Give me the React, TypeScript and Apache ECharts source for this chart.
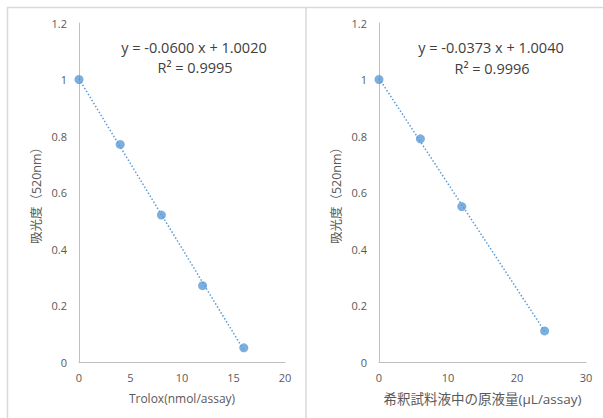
import React, { useEffect, useRef } from "react";
import * as echarts from "echarts";

// Left chart: Trolox standard curve
const troloxX = [0, 4, 8, 12, 16];
const troloxAbs = [1.0, 0.77, 0.52, 0.27, 0.05];
const troloxTrend = [
  [0, 1.002],
  [16, 0.042],
];
const troloxEq = "y = -0.0600 x + 1.0020";
const troloxR2 = "R² = 0.9995";

// Right chart: sample
const sampleX = [0, 6, 12, 24];
const sampleAbs = [1.0, 0.79, 0.55, 0.11];
const sampleTrend = [
  [0, 1.004],
  [24, 0.109],
];
const sampleEq = "y = -0.0373 x + 1.0040";
const sampleR2 = "R² = 0.9996";

const yName = "吸光度（520nm）";
const xNameLeft = "Trolox(nmol/assay)";
const xNameRight = "希釈試料液中の原液量(μL/assay)";

const FONT = "'Open Sans', 'Noto Sans CJK JP', sans-serif";
const LABEL = "#595959";
const AXIS = "#bfbfbf";
const BLUE = "#5b9bd5";
const BORDER = "#d9d9d9";

export default function App() {
  const ref = useRef<HTMLDivElement>(null);
  useEffect(() => {
    if (!ref.current) return;
    const chart = echarts.init(ref.current, undefined, { renderer: "svg" });
    const xAxisBase = (max: number, interval: number, name: string, nameSize: number) => ({
      type: "value",
      min: 0,
      max,
      interval,
      name,
      nameLocation: "middle",
      nameGap: 30,
      nameTextStyle: { color: LABEL, fontSize: nameSize, fontFamily: FONT },
      axisLine: { show: true, onZero: false, lineStyle: { color: AXIS, width: 1 } },
      axisTick: { show: false },
      splitLine: { show: false },
      axisLabel: { color: LABEL, fontSize: 11, fontFamily: FONT, margin: 10 },
    });
    const yAxisBase = () => ({
      type: "value",
      min: 0,
      max: 1.2,
      interval: 0.2,
      name: yName,
      nameLocation: "middle",
      nameRotate: 90,
      nameGap: 36,
      nameTextStyle: { color: LABEL, fontSize: 12.5, fontFamily: FONT },
      axisLine: { show: true, lineStyle: { color: AXIS, width: 1 } },
      axisTick: { show: false },
      splitLine: { show: false },
      axisLabel: {
        color: LABEL,
        fontSize: 11,
        fontFamily: FONT,
        margin: 12,
        formatter: (v: number) => String(Math.round(v * 10) / 10),
      },
    });
    const toPairs = (xs: number[], ys: number[]) => xs.map((x, i) => [x, ys[i]]);
    chart.setOption({
      animation: false,
      backgroundColor: "#ffffff",
      grid: [
        { left: 79, top: 23, width: 206, height: 339 },
        { left: 379, top: 23, width: 207, height: 339 },
      ],
      xAxis: [
        { ...xAxisBase(20, 5, xNameLeft, 12), gridIndex: 0 },
        { ...xAxisBase(30, 10, xNameRight, 13.5), gridIndex: 1 },
      ],
      yAxis: [
        { ...yAxisBase(), gridIndex: 0 },
        { ...yAxisBase(), gridIndex: 1 },
      ],
      series: [
        {
          type: "line",
          xAxisIndex: 0,
          yAxisIndex: 0,
          data: troloxTrend,
          showSymbol: false,
          lineStyle: { color: BLUE, width: 1.5, type: [1.5, 2] },
          silent: true,
        },
        {
          type: "scatter",
          xAxisIndex: 0,
          yAxisIndex: 0,
          data: toPairs(troloxX, troloxAbs),
          symbolSize: 9,
          itemStyle: { color: BLUE },
        },
        {
          type: "line",
          xAxisIndex: 1,
          yAxisIndex: 1,
          data: sampleTrend,
          showSymbol: false,
          lineStyle: { color: BLUE, width: 1.5, type: [1.5, 2] },
          silent: true,
        },
        {
          type: "scatter",
          xAxisIndex: 1,
          yAxisIndex: 1,
          data: toPairs(sampleX, sampleAbs),
          symbolSize: 9,
          itemStyle: { color: BLUE },
        },
      ],
      graphic: [
        { type: "line", shape: { x1: 7, y1: 7.5, x2: 603, y2: 7.5 }, style: { stroke: BORDER, lineWidth: 1.5 } },
        { type: "line", shape: { x1: 7.5, y1: 7, x2: 7.5, y2: 418 }, style: { stroke: BORDER, lineWidth: 1.5 } },
        { type: "line", shape: { x1: 306, y1: 7, x2: 306, y2: 418 }, style: { stroke: BORDER, lineWidth: 1.5 } },
        {
          type: "text",
          x: 194,
          y: 47,
          style: { text: troloxEq, fill: "#404040", fontSize: 14.5, fontFamily: FONT, align: "center", verticalAlign: "middle" },
        },
        {
          type: "text",
          x: 195,
          y: 67,
          style: { text: troloxR2, fill: "#404040", fontSize: 14.5, fontFamily: FONT, align: "center", verticalAlign: "middle" },
        },
        {
          type: "text",
          x: 491,
          y: 47,
          style: { text: sampleEq, fill: "#404040", fontSize: 14.5, fontFamily: FONT, align: "center", verticalAlign: "middle" },
        },
        {
          type: "text",
          x: 492,
          y: 68,
          style: { text: sampleR2, fill: "#404040", fontSize: 14.5, fontFamily: FONT, align: "center", verticalAlign: "middle" },
        },
      ],
    });
    return () => chart.dispose();
  }, []);
  return (
    <div
      ref={ref}
      style={{ position: "absolute", left: 0, top: 0, width: 603, height: 418 }}
    />
  );
}
